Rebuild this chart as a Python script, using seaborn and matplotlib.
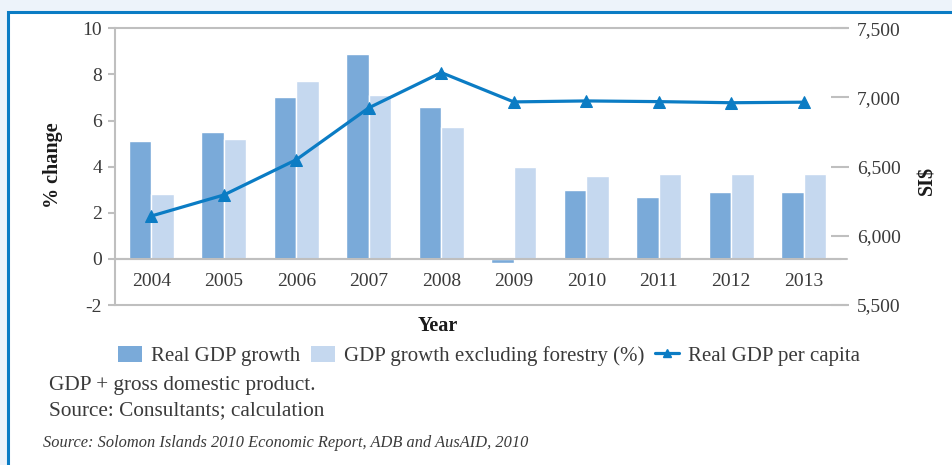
import numpy as np
import pandas as pd
import matplotlib
matplotlib.use("Agg")
import matplotlib.pyplot as plt
from matplotlib.patches import Rectangle, Patch
from matplotlib.lines import Line2D
import seaborn as sns

# ---- data -------------------------------------------------------------
years = ["2004", "2005", "2006", "2007", "2008", "2009", "2010", "2011", "2012", "2013"]
real_gdp_growth = [5.1, 5.5, 7.0, 8.9, 6.6, -0.2, 3.0, 2.7, 2.9, 2.9]
gdp_growth_ex_forestry = [2.8, 5.2, 7.7, 7.1, 5.7, 4.0, 3.6, 3.7, 3.7, 3.7]
real_gdp_per_capita = [6143, 6295, 6550, 6925, 7180, 6968, 6975, 6970, 6962, 6966]

series_names = ["Real GDP growth", "GDP growth excluding forestry (%)"]
line_name = "Real GDP per capita"
pct_ticks = [-2, 0, 2, 4, 6, 8, 10]
si_ticks = [5500, 6000, 6500, 7000, 7500]

# ---- style ------------------------------------------------------------
sns.set_style("white")
plt.rcParams["font.family"] = ["Liberation Serif", "DejaVu Serif"]
plt.rcParams["axes.unicode_minus"] = False

DARK = "#7aaad9"
LIGHT = "#c5d8ef"
LINE = "#0b7cc4"
GRID = "#bfbfbf"
TXT = "#3a3a3a"
W, H = 952, 465

fig = plt.figure(figsize=(W / 100, H / 100), dpi=100)
fig.patch.set_facecolor("#edf3fa")

# white panel with blue border (top and left edges visible)
fig.patches.append(Rectangle((8 / W, -0.2), 1.5, 1.2 - 12.5 / H,
                             transform=fig.transFigure, facecolor="white",
                             edgecolor=LINE, linewidth=2.2, zorder=-5))

ax = fig.add_axes([115 / W, 1 - 305 / H, (840 - 115) / W, (305 - 28.3) / H])
ax.set_facecolor("none")

df = pd.DataFrame({
    "year": years * 2,
    "series": [series_names[0]] * len(years) + [series_names[1]] * len(years),
    "value": real_gdp_growth + gdp_growth_ex_forestry,
})
sns.barplot(data=df, x="year", y="value", hue="series", palette=[DARK, LIGHT],
            width=0.62, saturation=1, ax=ax, legend=False, zorder=2)

ax.set_xlim(-0.5, len(years) - 0.5)
ax.set_ylim(-2, 10)
ax.set_xlabel("")
ax.set_ylabel("")

# left axis
ax.set_yticks(pct_ticks)
ax.set_yticklabels([str(t) for t in pct_ticks])
ax.tick_params(axis="y", direction="out", length=5, width=1.5, color=GRID,
               labelsize=14, labelcolor=TXT, pad=4.4)
for s in ["top", "right"]:
    ax.spines[s].set_visible(False)
ax.spines["left"].set_color(GRID)
ax.spines["left"].set_linewidth(1.5)
ax.spines["bottom"].set_position(("data", 0))
ax.spines["bottom"].set_color(GRID)
ax.spines["bottom"].set_linewidth(1.5)

# category labels sit on the zero line, with separators between categories
ax.set_xticks(range(len(years)))
ax.set_xticklabels(years)
ax.set_xticks(np.arange(0.5, len(years) - 1, 1), minor=True)
ax.tick_params(axis="x", which="major", length=0, labelsize=14, labelcolor=TXT, pad=10)
ax.tick_params(axis="x", which="minor", direction="inout", length=12, width=1.5, color=GRID)

ext = (847 - 115) / (840 - 115)
for yv in (10, 0, -2):
    ax.axhline(yv, xmin=0, xmax=ext, color=GRID, lw=1.5, clip_on=False, zorder=1)

# right axis with the per-capita line
ax2 = ax.twinx()
sns.lineplot(x=np.arange(len(years)), y=real_gdp_per_capita, ax=ax2, color=LINE,
             linewidth=2.3, marker="^", markersize=8, markeredgecolor=LINE,
             legend=False)
ax2.set_ylim(5500, 7500)
ax2.set_yticks(si_ticks)
ax2.set_yticklabels([f"{t:,}" for t in si_ticks])
ax2.tick_params(axis="y", direction="inout", length=13.5, width=1.5, color=GRID,
                labelsize=14, labelcolor=TXT, pad=5.4)
for s in ax2.spines.values():
    s.set_visible(False)
ax2.set_ylabel("")
ax2.set_xlim(-0.5, len(years) - 0.5)

# axis titles
fig.text(53 / W, 1 - 165 / H, "% change", rotation=90, ha="center", va="center",
         fontsize=14.5, fontweight="bold", color="#1a1a1a")
fig.text(927 / W, 1 - 180 / H, "SI$", rotation=90, ha="center", va="center",
         fontsize=14.5, fontweight="bold", color="#1a1a1a")
fig.text(438 / W, 1 - 326 / H, "Year", ha="center", va="center",
         fontsize=14.5, fontweight="bold", color="#1a1a1a")

# legend
handles = [Patch(facecolor=DARK, edgecolor="none"),
           Patch(facecolor=LIGHT, edgecolor="none"),
           Line2D([], [], color=LINE, lw=2.3, marker="^", markersize=6)]
fig.legend(handles, series_names + [line_name], loc="center",
           bbox_to_anchor=(489 / W, 1 - 356 / H), ncol=3, frameon=False,
           fontsize=15, handlelength=1.15, handleheight=0.85,
           handletextpad=0.4, columnspacing=0.55, labelcolor=TXT)

# notes
fig.text(49 / W, 1 - 385 / H, "GDP + gross domestic product.", ha="left", va="center",
         fontsize=15.3, color=TXT)
fig.text(49 / W, 1 - 411 / H, "Source: Consultants; calculation", ha="left", va="center",
         fontsize=15.3, color=TXT)
fig.text(43 / W, 1 - 443 / H,
         "Source: Solomon Islands 2010 Economic Report, ADB and AusAID, 2010",
         ha="left", va="center", fontsize=11.8, fontstyle="italic", color=TXT)

fig.savefig("out.png", dpi=100, facecolor=fig.get_facecolor())
